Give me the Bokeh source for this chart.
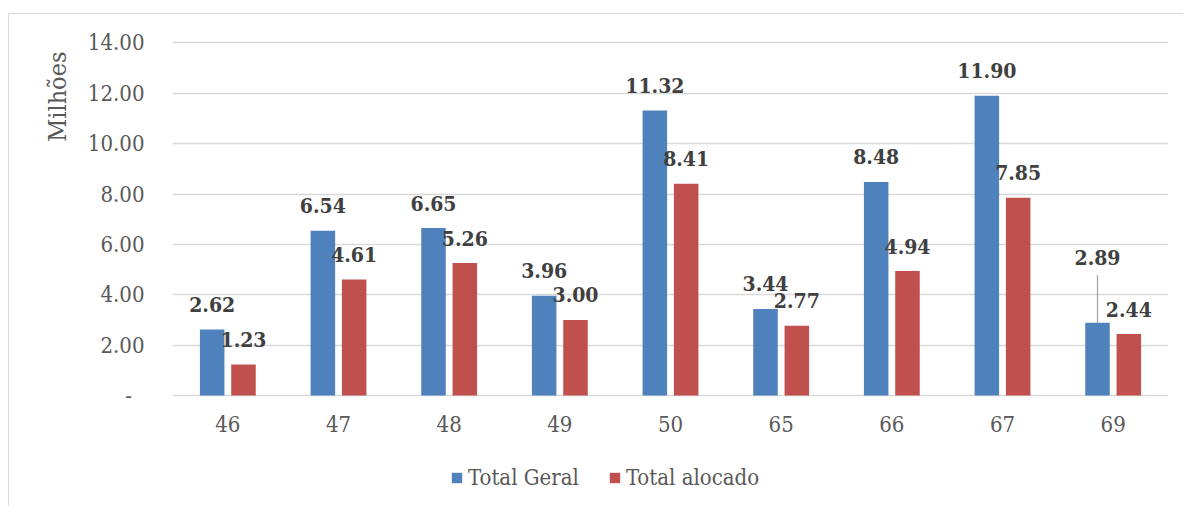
from bokeh.plotting import figure
from bokeh.layouts import column
from bokeh.models import (ColumnDataSource, FactorRange, Range1d, FixedTicker,
                          Legend, LegendItem, Title)
from bokeh.transform import dodge
from bokeh.core.properties import value
from bokeh.embed import file_html
from bokeh.resources import INLINE

# ---- data (values in millions) ----
categories = ["46", "47", "48", "49", "50", "65", "66", "67", "69"]
total_geral = [2.62, 6.54, 6.65, 3.96, 11.32, 3.44, 8.48, 11.90, 2.89]
total_alocado = [1.23, 4.61, 5.26, 3.00, 8.41, 2.77, 4.94, 7.85, 2.44]
series_names = ["Total Geral", "Total alocado"]
y_ticks = [0, 2, 4, 6, 8, 10, 12, 14]
axis_title = "Milhões"

# pixel lift of each value label above its bar (last blue label is pulled up
# and joined to its bar by a leader line)
lift_geral = [25, 25, 25, 25, 25, 25, 25, 25, 65.5]
lift_alocado = [25, 25, 25, 25, 25, 25, 25, 25, 25]

# ---- style ----
BLUE = "#4F81BD"
RED = "#C0504D"
GRID = "#D9D9D9"
TICK_TXT = "#595959"
LABEL_TXT = "#404040"
FONT = "DejaVu Serif Condensed"

W = 1175
H_MAIN, H_LEG = 433, 60
Y0, Y1 = -0.1986, 14.1787
FRAME_H = 362
PX = FRAME_H / (Y1 - Y0)          # pixels per unit on the y axis
OFF = 0.1415                       # dodge of each series from the category centre
BAR_W = 0.2215

p = figure(width=W, height=H_MAIN,
           x_range=FactorRange(*categories, range_padding=0),
           y_range=Range1d(Y0, Y1),
           output_backend="svg", toolbar_location=None,
           min_border_left=163, min_border_right=16,
           min_border_top=24, min_border_bottom=H_MAIN - 24 - FRAME_H)
p.styles = {"margin-left": "8px", "margin-top": "13px",
            "border-left": "1px solid #D9D9D9",
            "border-top": "1px solid #D9D9D9"}
p.outline_line_color = None
p.background_fill_color = "white"
p.border_fill_color = "white"

src = ColumnDataSource(dict(
    cat=categories,
    geral=total_geral,
    alocado=total_alocado,
    geral_txt=[f"{v:.2f}" for v in total_geral],
    alocado_txt=[f"{v:.2f}" for v in total_alocado],
    geral_dy=[-v for v in lift_geral],
    alocado_dy=[-v for v in lift_alocado],
))

p.vbar(x=dodge("cat", -OFF, range=p.x_range), top="geral", bottom=0,
       width=BAR_W, fill_color=BLUE, line_color=None, source=src)
p.vbar(x=dodge("cat", OFF, range=p.x_range), top="alocado", bottom=0,
       width=BAR_W, fill_color=RED, line_color=None, source=src)

# leader lines for labels that sit far from their bar
lead_cats, lead_y0, lead_y1 = [], [], []
for c, v, l in zip(categories, total_geral, lift_geral):
    if l > 40:
        lead_cats.append(c)
        lead_y0.append(v)
        lead_y1.append(v + (l - 18) / PX)
lead_src = ColumnDataSource(dict(cat=lead_cats, y0=lead_y0, y1=lead_y1))
p.segment(x0=dodge("cat", -OFF, range=p.x_range), y0="y0",
          x1=dodge("cat", -OFF, range=p.x_range), y1="y1",
          line_color="#A6A6A6", line_width=1.3, source=lead_src)

label_kw = dict(text_align="center", text_baseline="middle",
                text_font=value(FONT), text_font_style="bold",
                text_font_size="21px", text_color=LABEL_TXT, source=src)
p.text(x=dodge("cat", -OFF, range=p.x_range), y="geral", text="geral_txt",
       y_offset="geral_dy", **label_kw)
p.text(x=dodge("cat", OFF, range=p.x_range), y="alocado", text="alocado_txt",
       y_offset="alocado_dy", **label_kw)

# ---- axes ----
p.xgrid.grid_line_color = None
p.ygrid.grid_line_color = GRID
p.ygrid.grid_line_width = 1.4
p.yaxis.ticker = FixedTicker(ticks=y_ticks)
p.yaxis.major_label_overrides = {t: (f"{t:.2f}" if t else "-\u00a0\u00a0")
                                 for t in y_ticks}
for ax in (p.xaxis[0], p.yaxis[0]):
    ax.axis_line_color = None
    ax.major_tick_line_color = None
    ax.minor_tick_line_color = None
    ax.major_tick_out = 0
    ax.major_tick_in = 0
    ax.major_label_text_font = FONT
    ax.major_label_text_font_size = "22px"
    ax.major_label_text_color = TICK_TXT
p.yaxis.major_label_standoff = 28
p.xaxis.major_label_standoff = 15

# vertical axis title, sitting near the top of the value axis
p.add_layout(Title(text=axis_title, align="right", offset=13, standoff=25,
                   text_font=FONT, text_font_size="25px",
                   text_font_style="normal", text_color=TICK_TXT), "left")

# ---- legend strip under the chart (its frame lines up with the chart's) ----
leg = figure(width=W, height=H_LEG, x_range=Range1d(0, 1), y_range=Range1d(0, 1),
             output_backend="svg", toolbar_location=None,
             min_border=0, outline_line_color=None)
leg.styles = {"margin-left": "8px", "border-left": "1px solid #D9D9D9"}
leg.axis.visible = False
leg.grid.visible = False
# swatch renderers kept outside the visible range; only their legend keys show
leg_src = ColumnDataSource(dict(x=[-5], top=[-5]))
sw_geral = leg.vbar(x="x", top="top", bottom=-6, width=0.1, fill_color=BLUE,
                    line_color=None, source=leg_src)
sw_aloc = leg.vbar(x="x", top="top", bottom=-6, width=0.1, fill_color=RED,
                   line_color=None, source=leg_src)
legend = Legend(items=[LegendItem(label=series_names[0], renderers=[sw_geral]),
                       LegendItem(label=series_names[1], renderers=[sw_aloc])],
                orientation="horizontal", location=(278, 16),
                glyph_width=13, glyph_height=13, label_standoff=5, spacing=29,
                padding=0, margin=0, border_line_color=None,
                background_fill_alpha=0,
                label_text_font=FONT, label_text_font_size="22px",
                label_text_color=TICK_TXT)
leg.add_layout(legend, "center")

page = column(p, leg, spacing=0)
open("out.html", "w").write(file_html(page, INLINE))
